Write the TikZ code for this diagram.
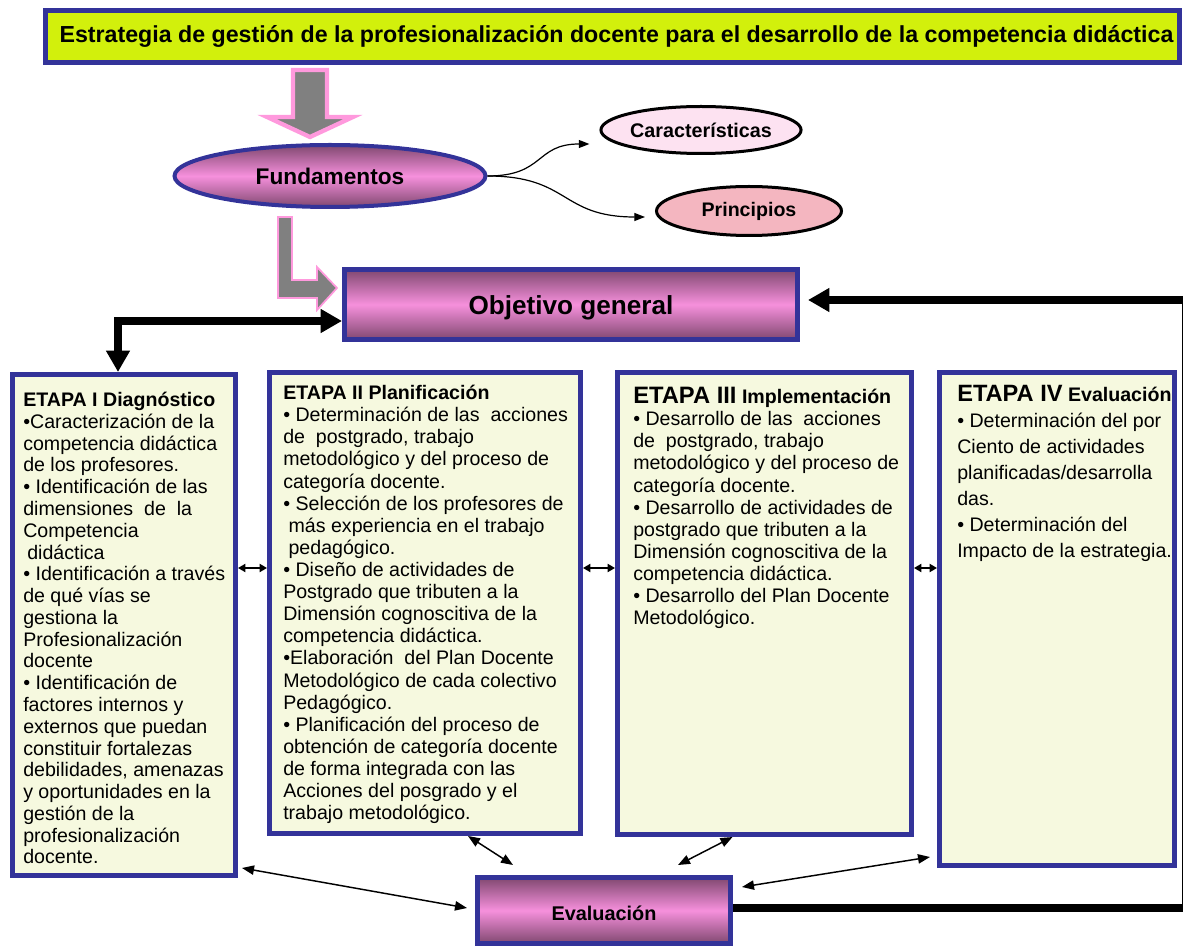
\documentclass[tikz,border=0pt]{standalone}
\usepackage{fontspec}
\setmainfont{Liberation Sans}
\usetikzlibrary{shapes.geometric,arrows.meta}
\definecolor{bord}{RGB}{51,51,153}
\definecolor{titlefill}{RGB}{210,240,12}
\definecolor{stagefill}{RGB}{246,249,223}
\definecolor{mauve}{RGB}{128,72,112}
\definecolor{pinkm}{RGB}{246,144,220}
\definecolor{carfill}{RGB}{253,226,241}
\definecolor{prinfill}{RGB}{244,182,192}
\definecolor{arrpink}{RGB}{255,153,221}
\definecolor{arrgray}{RGB}{128,128,128}
\begin{document}
\begin{tikzpicture}[x=0.75pt,y=-0.75pt,
  grad/.style={top color=mauve,bottom color=mauve,middle color=pinkm},
  gradbox/.style={rectangle,draw=bord,line width=3.75pt,grad,inner sep=0pt},
  stagebox/.style={rectangle,draw=bord,line width=3.6pt,fill=stagefill,inner sep=0pt},
  stagetext/.style={anchor=north west,align=left,inner sep=0pt,font=\fontsize{14.7}{16.58}\selectfont},
  blockarrow/.style={fill=arrgray,draw=arrpink,line join=miter},
  curvarrow/.style={->,>={Triangle[length=8pt,width=6pt]},line width=0.9pt},
  thickarrow/.style={line width=5.5pt,>={Triangle[length=16pt,width=17pt]}},
  sidearrow/.style={<->,>={Triangle[length=5.5pt,width=6pt]},line width=1.8pt},
  botarrow/.style={<->,>={Triangle[length=9pt,width=7pt]},line width=1.1pt}
]
\useasboundingbox (0,0) rectangle (1183,948);

% title
\node[rectangle,draw=bord,line width=3.75pt,fill=titlefill,inner sep=0pt,
      minimum width=850.5pt,minimum height=39pt,
      font=\fontsize{17.4}{20}\selectfont\bfseries] (title) at (612.5,36.5)
  {\hspace{6pt}Estrategia de gestión de la profesionalización docente para el desarrollo de la competencia didáctica};

% Fundamentos and satellites
\node[ellipse,draw=bord,line width=3pt,grad,inner sep=0pt,minimum width=233.25pt,minimum height=46.5pt,
      font=\fontsize{17}{20}\selectfont\bfseries] (fund) at (330,176) {Fundamentos};
\node[ellipse,draw=black,line width=2.25pt,fill=carfill,inner sep=0pt,minimum width=138pt,minimum height=35.25pt,
      font=\fontsize{14.8}{17}\selectfont\bfseries] (car) at (701,130) {Características};
\node[ellipse,draw=black,line width=2.25pt,fill=prinfill,inner sep=0pt,minimum width=138.75pt,minimum height=36.75pt,
      font=\fontsize{14.7}{17}\selectfont\bfseries] (prin) at (749,211) {Principios};

% block arrows
\draw[blockarrow,line width=3.2pt] (293,70) -- (327,70) -- (327,117) -- (353,117) -- (310,137) -- (267,117) -- (293,117) -- cycle;
\draw[blockarrow,line width=1.3pt] (278,217) -- (292,217) -- (292,280) -- (317,280) -- (317,267) -- (337,288) -- (317,310) -- (317,298) -- (278,298) -- cycle;

% curved arrows
\draw[curvarrow] (fund.east) .. controls (545,176) and (535,144) .. ([shift={(-10,14)}]car.west);
\draw[curvarrow] (fund.east) .. controls (570,176) and (560,217) .. ([shift={(-10,6)}]prin.west);

% Objetivo general
\node[gradbox,minimum width=339.75pt,minimum height=52.5pt,text height=15.5pt,text depth=0pt,
      font=\fontsize{19.6}{22}\selectfont\bfseries] (obj) at (571,304.5) {Objetivo general};

% stage boxes
\node[stagebox,minimum width=167.4pt,minimum height=375.9pt] (s1) at (124,625) {};
\node[stagebox,minimum width=233.4pt,minimum height=345.9pt] (s2) at (425,603) {};
\node[stagebox,minimum width=220.65pt,minimum height=346.65pt] (s3) at (764.5,603.5) {};
\node[stagebox,minimum width=176.4pt,minimum height=369.9pt] (s4) at (1057,619) {};

\node[stagetext,font=\fontsize{14.7}{16.33}\selectfont] (t1) at ([shift={(13,20)}]s1.north west) {%
{\bfseries ETAPA I Diagnóstico}\\
•Caracterización de la\\
competencia didáctica\\
de los profesores.\\
• Identificación de las\\
dimensiones\ \ de\ \ la\\
Competencia\\
\hspace{3pt}didáctica\\
• Identificación a través\\
de qué vías se\\
gestiona la\\
Profesionalización\\
docente\\
• Identificación de\\
factores internos y\\
externos que puedan\\
constituir fortalezas\\
debilidades, amenazas\\
y oportunidades en la\\
gestión de la\\
profesionalización\\
docente.};

\node[stagetext] (t2) at ([shift={(16,15)}]s2.north west) {%
{\bfseries ETAPA II Planificación}\\
• Determinación de las\ \ acciones\\
de\ \ postgrado, trabajo\\
metodológico y del proceso de\\
categoría docente.\\
• Selección de los profesores de\\
\hspace{4pt}más experiencia en el trabajo\\
\hspace{4pt}pedagógico.\\
• Diseño de actividades de\\
Postgrado que tributen a la\\
Dimensión cognoscitiva de la\\
competencia didáctica.\\
•Elaboración\ \ del Plan Docente\\
Metodológico de cada colectivo\\
Pedagógico.\\
• Planificación del proceso de\\
obtención de categoría docente\\
de forma integrada con las\\
Acciones del posgrado y el\\
trabajo metodológico.};

\node[stagetext] (t3) at ([shift={(18,17)}]s3.north west) {%
{\fontsize{17.8}{16.58}\selectfont\bfseries ETAPA III} {\bfseries Implementación}\\
• Desarrollo de las\ \ acciones\\
de\ \ postgrado, trabajo\\
metodológico y del proceso de\\
categoría docente.\\
• Desarrollo de actividades de\\
postgrado que tributen a la\\
Dimensión cognoscitiva de la\\
competencia didáctica.\\
• Desarrollo del Plan Docente\\
Metodológico.};

\node[stagetext,font=\fontsize{14.7}{19.5}\selectfont] (t4) at ([shift={(20,15)}]s4.north west) {%
{\fontsize{17.7}{19.5}\selectfont\bfseries ETAPA IV} {\bfseries Evaluación}\\
• Determinación del por\\
Ciento de actividades\\
planificadas/desarrolla\\
das.\\
• Determinación del\\
Impacto de la estrategia.};

% Evaluacion
\node[gradbox,minimum width=189.75pt,minimum height=49.5pt,text height=14.5pt,text depth=0pt,
      font=\fontsize{14.9}{17}\selectfont\bfseries] (ev) at (604,910.5) {Evaluación};

% thick arrows
\coordinate (lc) at (118,321);
\draw[thickarrow,<->] ([shift={(0,16.5)}]obj.west) -- (lc) -- (lc |- s1.north);
\coordinate (rc1) at (1185.5,908);
\coordinate (rc2) at (1185.5,300);
\draw[thickarrow,->] ([shift={(0,-2.5)}]ev.east) -- (rc1) -- (rc2) -- ([shift={(8,-4.5)}]obj.east);

% side arrows between stages
\coordinate (mid) at (0,568);
\draw[sidearrow] (s1.east |- mid) -- (s2.west |- mid);
\draw[sidearrow] (s2.east |- mid) -- (s3.west |- mid);
\draw[sidearrow] (s3.east |- mid) -- (s4.west |- mid);

% arrows to Evaluacion
\draw[botarrow] ([shift={(4,-10)}]s1.south east) -- ([shift={(-8,-2.5)}]ev.west);
\draw[botarrow] ([shift={(43,0)}]s2.south) -- ([shift={(-91,-10)}]ev.north);
\draw[botarrow] ([shift={(-32,0)}]s3.south) -- ([shift={(74,-10)}]ev.north);
\draw[botarrow] ([shift={(9,-23.5)}]ev.east) -- ([shift={(-7,-11)}]s4.south west);
\end{tikzpicture}
\end{document}
